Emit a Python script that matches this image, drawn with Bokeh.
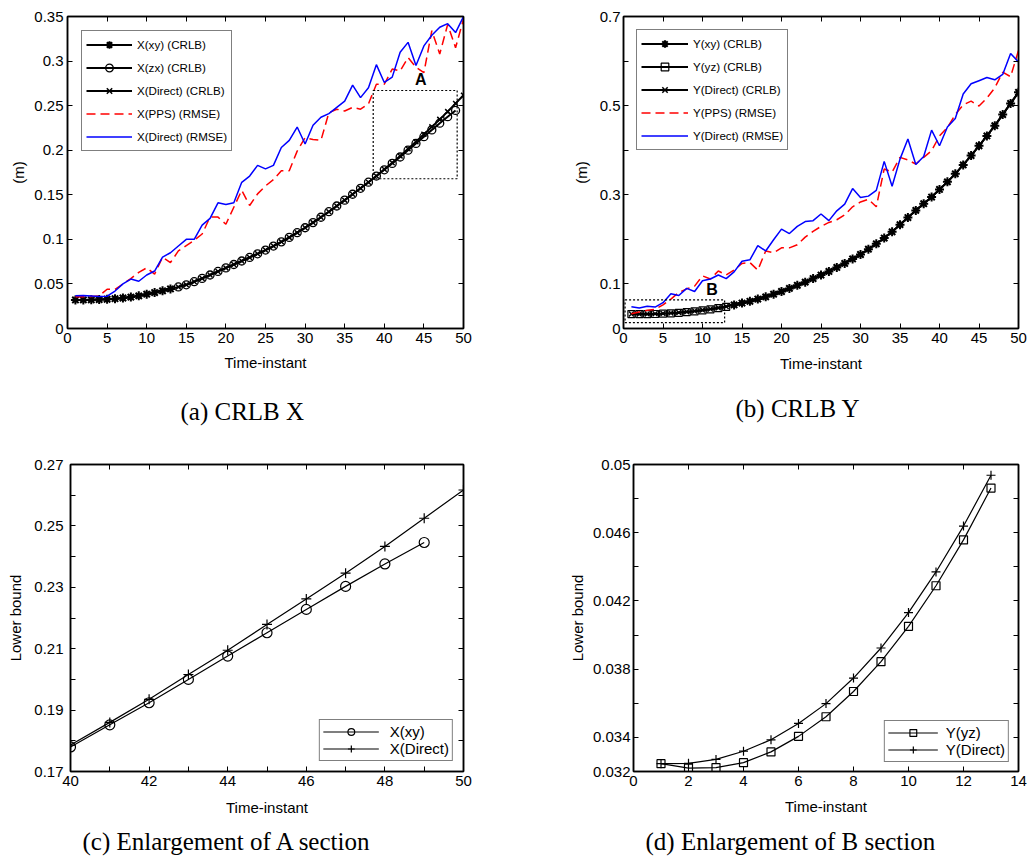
from bokeh.plotting import figure
from bokeh.models import (Range1d, FixedTicker, LinearAxis, CustomJSTickFormatter,
                          Legend, LegendItem, Title, Label)
from bokeh.layouts import row, column
from bokeh.embed import file_html
from bokeh.resources import INLINE

# ---------------- data: panel (a) CRLB X ----------------
t_all = list(range(1, 51))
t_xy = list(range(1, 14))
t_zx = list(range(14, 50))

x_xy_crlb = [0.0320, 0.0321, 0.0322, 0.0324, 0.0328, 0.0334, 0.0342, 0.0352, 0.0366, 0.0385,
             0.0403, 0.0423, 0.0444]
x_zx_crlb = [0.0466, 0.0490, 0.0525, 0.0562, 0.0600, 0.0640, 0.0680, 0.0718, 0.0757, 0.0797,
             0.0838, 0.0880, 0.0925, 0.0972, 0.1022, 0.1075, 0.1130, 0.1188, 0.1248, 0.1310,
             0.1374, 0.1440, 0.1506, 0.1573, 0.1641, 0.1710, 0.1780, 0.1852, 0.1924, 0.2000,
             0.2076, 0.2152, 0.2228, 0.2303, 0.2376, 0.2446]
x_direct_crlb = [0.0320, 0.0321, 0.0322, 0.0324, 0.0328, 0.0334, 0.0342, 0.0352, 0.0366, 0.0385,
                 0.0403, 0.0423, 0.0444, 0.0466, 0.0490, 0.0525, 0.0562, 0.0600, 0.0640, 0.0680,
                 0.0718, 0.0757, 0.0797, 0.0838, 0.0880, 0.0925, 0.0972, 0.1022, 0.1075, 0.1130,
                 0.1188, 0.1248, 0.1310, 0.1374, 0.1440, 0.1506, 0.1573, 0.1641, 0.1710, 0.1786,
                 0.1860, 0.1935, 0.2016, 0.2095, 0.2179, 0.2262, 0.2346, 0.2433, 0.2525, 0.2617]
x_pps_rmse = [0.0355, 0.0355, 0.0360, 0.0366, 0.0440, 0.0440, 0.0500, 0.0560, 0.0630, 0.0680,
              0.0610, 0.0800, 0.0740, 0.0870, 0.0930, 0.0990, 0.1060, 0.1250, 0.1250, 0.1170,
              0.1360, 0.1550, 0.1380, 0.1510, 0.1600, 0.1670, 0.1770, 0.1770, 0.1990, 0.2140,
              0.2120, 0.2110, 0.2420, 0.2460, 0.2440, 0.2480, 0.2460, 0.2520, 0.2740, 0.2740,
              0.2910, 0.2890, 0.3040, 0.2930, 0.2870, 0.3340, 0.3080, 0.3410, 0.3150, 0.3470]
x_direct_rmse = [0.0366, 0.0370, 0.0365, 0.0358, 0.0362, 0.0420, 0.0500, 0.0555, 0.0530, 0.0600,
                 0.0645, 0.0800, 0.0850, 0.0925, 0.1000, 0.1000, 0.1160, 0.1235, 0.1410, 0.1390,
                 0.1410, 0.1640, 0.1710, 0.1830, 0.1790, 0.1830, 0.2030, 0.2110, 0.2260, 0.2070,
                 0.2280, 0.2370, 0.2410, 0.2480, 0.2550, 0.2730, 0.2590, 0.2700, 0.2960, 0.2760,
                 0.2820, 0.3100, 0.3210, 0.2950, 0.3170, 0.3290, 0.3380, 0.3420, 0.3320, 0.3500]
zoom_a_x = [38.6, 49.2]
zoom_a_y = [0.168, 0.267]

# ---------------- data: panel (b) CRLB Y ----------------
t_yz = list(range(1, 14))
t_yxy = list(range(14, 51))
y_yz_crlb = [0.03246, 0.03220, 0.03223, 0.03252, 0.03315, 0.03406, 0.03521, 0.03669, 0.03844,
             0.04051, 0.04289, 0.04558, 0.04862]
y_direct_crlb = [0.03246, 0.03248, 0.03271, 0.03319, 0.03386, 0.03482, 0.03598, 0.03748, 0.03924,
                 0.04132, 0.04370, 0.04639, 0.04937, 0.0530, 0.0570, 0.0610, 0.0660, 0.0710,
                 0.0770, 0.0830, 0.0900, 0.0970, 0.1040, 0.1120, 0.1200, 0.1280, 0.1370, 0.1460,
                 0.1560, 0.1660, 0.1780, 0.1900, 0.2030, 0.2170, 0.2330, 0.2490, 0.2650, 0.2800,
                 0.2950, 0.3120, 0.3290, 0.3470, 0.3670, 0.3880, 0.4100, 0.4320, 0.4550, 0.4800,
                 0.5050, 0.5300]
y_xy_crlb = [0.0530, 0.0570, 0.0610, 0.0660, 0.0710, 0.0770, 0.0830, 0.0900, 0.0970, 0.1040,
             0.1120, 0.1200, 0.1280, 0.1370, 0.1460, 0.1560, 0.1660, 0.1780, 0.1900, 0.2030,
             0.2170, 0.2330, 0.2490, 0.2650, 0.2800, 0.2950, 0.3120, 0.3290, 0.3470, 0.3670,
             0.3880, 0.4100, 0.4320, 0.4550, 0.4800, 0.5050, 0.5300]
y_pps_rmse = [0.033, 0.037, 0.041, 0.043, 0.053, 0.066, 0.081, 0.089, 0.095, 0.118,
              0.111, 0.129, 0.120, 0.131, 0.146, 0.148, 0.131, 0.174, 0.170, 0.181,
              0.181, 0.188, 0.205, 0.218, 0.229, 0.238, 0.244, 0.255, 0.273, 0.284,
              0.290, 0.273, 0.358, 0.351, 0.384, 0.378, 0.369, 0.384, 0.399, 0.432,
              0.451, 0.480, 0.502, 0.510, 0.499, 0.517, 0.540, 0.575, 0.565, 0.624]
y_direct_rmse = [0.049, 0.046, 0.050, 0.048, 0.058, 0.078, 0.074, 0.090, 0.083, 0.107,
                 0.111, 0.120, 0.112, 0.127, 0.151, 0.154, 0.186, 0.174, 0.199, 0.223,
                 0.213, 0.229, 0.240, 0.242, 0.257, 0.242, 0.264, 0.279, 0.314, 0.294,
                 0.297, 0.310, 0.375, 0.319, 0.380, 0.425, 0.368, 0.386, 0.445, 0.410,
                 0.452, 0.471, 0.526, 0.549, 0.556, 0.563, 0.558, 0.570, 0.617, 0.598]
zoom_b_x = [0.2, 12.8]
zoom_b_y = [0.013, 0.064]

# ---------------- data: panel (c) enlargement A ----------------
c_t_xy = list(range(40, 50))
c_xy = [0.1780, 0.1852, 0.1924, 0.2000, 0.2076, 0.2152, 0.2228, 0.2303, 0.2376, 0.2446]
c_t_direct = list(range(40, 51))
c_direct = [0.1786, 0.1860, 0.1935, 0.2016, 0.2095, 0.2179, 0.2262, 0.2346, 0.2433, 0.2525, 0.2617]

# ---------------- data: panel (d) enlargement B ----------------
d_t = list(range(1, 14))
d_yz = [0.03246, 0.03220, 0.03223, 0.03252, 0.03315, 0.03406, 0.03521, 0.03669, 0.03844,
        0.04051, 0.04289, 0.04558, 0.04862]
d_direct = [0.03246, 0.03248, 0.03271, 0.03319, 0.03386, 0.03482, 0.03598, 0.03748, 0.03924,
            0.04132, 0.04370, 0.04639, 0.04937]

# ---------------- ticks ----------------
a_xticks = list(range(0, 51, 5))
a_yticks = [0, 0.05, 0.1, 0.15, 0.2, 0.25, 0.3, 0.35]
b_yticks = [0, 0.1, 0.2, 0.3, 0.4, 0.5, 0.6, 0.7]
b_ylabels = [0, 0.1, 0.3, 0.5, 0.7]
c_xticks = list(range(40, 51))
c_xlabels = [40, 42, 44, 46, 48, 50]
c_yticks = [0.17, 0.18, 0.19, 0.20, 0.21, 0.22, 0.23, 0.24, 0.25, 0.26, 0.27]
c_ylabels = [0.17, 0.19, 0.21, 0.23, 0.25, 0.27]
d_xticks = list(range(0, 15, 2))
d_yticks = [0.032, 0.034, 0.036, 0.038, 0.040, 0.042, 0.044, 0.046, 0.048, 0.050]
d_ylabels = [0.032, 0.034, 0.038, 0.042, 0.046, 0.050]

SANS = "Liberation Sans"
SERIF = "Liberation Serif"


def fmt(show):
    return CustomJSTickFormatter(
        args=dict(show=[int(round(v * 10000)) for v in show]),
        code="""
const k = Math.round(tick * 10000);
if (show.indexOf(k) < 0) { return ""; }
return String(parseFloat(tick.toFixed(4)));
""")


def make_fig(w, h, xr, yr, bl, br, bt, bb):
    p = figure(width=w, height=h, x_range=Range1d(*xr), y_range=Range1d(*yr),
               output_backend="svg", toolbar_location=None,
               min_border_left=bl, min_border_right=br, min_border_top=bt, min_border_bottom=bb)
    p.grid.visible = False
    p.outline_line_color = "black"
    p.outline_line_width = 1.5
    p.background_fill_color = "white"
    p.border_fill_color = "white"
    return p


def style_axes(p, xt, xshow, yt, yshow, xlabel, ylabel, ystand, ylstand, xlstand):
    xa = p.below[0]
    ya = p.left[0]
    xa.ticker = FixedTicker(ticks=xt)
    ya.ticker = FixedTicker(ticks=yt)
    xa.formatter = fmt(xshow)
    ya.formatter = fmt(yshow)
    for ax in (xa, ya):
        ax.major_tick_in = 5
        ax.major_tick_out = 0
        ax.minor_tick_in = 0
        ax.minor_tick_out = 0
        ax.axis_line_width = 1.5
        ax.axis_line_color = "black"
        ax.major_tick_line_color = "black"
        ax.major_label_text_font = SANS
        ax.major_label_text_font_size = "15px"
        ax.major_label_text_color = "black"
        ax.axis_label_text_font = SANS
        ax.axis_label_text_font_size = "15px"
        ax.axis_label_text_font_style = "normal"
        ax.axis_label_text_color = "black"
    xa.axis_label = xlabel
    ya.axis_label = ylabel
    xa.major_label_standoff = 4
    xa.axis_label_standoff = xlstand
    ya.major_label_standoff = ystand
    ya.axis_label_standoff = ylstand
    for loc, ticks in (("right", yt), ("above", xt)):
        ax = LinearAxis(ticker=FixedTicker(ticks=ticks),
                        formatter=CustomJSTickFormatter(code="return '';"),
                        major_label_text_font_size="0px", major_label_standoff=0,
                        major_tick_in=5, major_tick_out=0, minor_tick_in=0, minor_tick_out=0,
                        axis_line_width=1.5, axis_line_color="black")
        p.add_layout(ax, loc)


def add_caption(p, text, standoff, offset):
    p.add_layout(Title(text=text, align="left", text_font=SERIF, text_font_size="25px",
                       text_font_style="normal", text_color="black",
                       standoff=standoff, offset=offset), "below")


def make_legend(items, location, margin, padding, spacing, gw, gh, lh, stand, fsize, bw):
    return Legend(items=items, location=location, margin=margin, padding=padding,
                  spacing=spacing, glyph_width=gw, glyph_height=gh, label_height=lh,
                  label_standoff=stand, label_text_font=SANS, label_text_font_size=fsize,
                  label_text_color="black", border_line_color="black", border_line_width=bw,
                  background_fill_color="white", background_fill_alpha=1.0)


# ================= panel (a) =================
pa = make_fig(556, 448, (0, 50), (0, 0.35), 67, 93, 16, 120)
style_axes(pa, a_xticks, a_xticks, a_yticks, a_yticks, "Time-instant", "(m)", 4, 4, 8)
la3 = pa.line(t_all, x_direct_crlb, line_color="black", line_width=2)
sa3 = pa.scatter(t_all, x_direct_crlb, marker="x", size=7, line_color="black", line_width=1.5)
la1 = pa.line(t_xy, x_xy_crlb, line_color="black", line_width=2)
sa1 = pa.scatter(t_xy, x_xy_crlb, marker="asterisk", size=9, line_color="black", line_width=2)
la2 = pa.line(t_zx, x_zx_crlb, line_color="black", line_width=2)
sa2 = pa.scatter(t_zx, x_zx_crlb, marker="circle", size=8, line_color="black", line_width=1.3,
                 fill_alpha=0)
la4 = pa.line(t_all, x_pps_rmse, line_color="#ff0000", line_width=1.5, line_dash="9 5")
la5 = pa.line(t_all, x_direct_rmse, line_color="#0000ff", line_width=1.5)
pa.quad(left=[zoom_a_x[0]], right=[zoom_a_x[1]], bottom=[zoom_a_y[0]], top=[zoom_a_y[1]],
        fill_alpha=0, line_color="black", line_width=1.2, line_dash="2 2")
pa.add_layout(Label(x=(zoom_a_x[0] + zoom_a_x[1]) / 2 + 0.7, y=zoom_a_y[1], text="A",
                    text_font=SANS, text_font_style="bold", text_font_size="16px",
                    text_color="black", text_align="center", text_baseline="bottom",
                    y_offset=2))
pa.add_layout(make_legend([
    LegendItem(label="X(xy) (CRLB)", renderers=[la1, sa1]),
    LegendItem(label="X(zx) (CRLB)", renderers=[la2, sa2]),
    LegendItem(label="X(Direct) (CRLB)", renderers=[la3, sa3]),
    LegendItem(label="X(PPS) (RMSE)", renderers=[la4]),
    LegendItem(label="X(Direct) (RMSE)", renderers=[la5]),
], "top_left", 14, 4, 4, 46, 19, 19, 5, "11.6px", 1))
add_caption(pa, "(a) CRLB X", 44, 113)

# ================= panel (b) =================
pb = make_fig(471, 448, (0, 50), (0, 0.7), 67, 9, 14, 118)
style_axes(pb, a_xticks, a_xticks, b_yticks, b_ylabels, "Time-instant", "(m)", 3, 7, 9)
lb3 = pb.line(t_all, y_direct_crlb, line_color="black", line_width=2)
sb3 = pb.scatter(t_all, y_direct_crlb, marker="x", size=7, line_color="black", line_width=1.5)
lb1 = pb.line(t_yxy, y_xy_crlb, line_color="black", line_width=2)
sb1 = pb.scatter(t_yxy, y_xy_crlb, marker="asterisk", size=9, line_color="black", line_width=2)
lb2 = pb.line(t_yz, y_yz_crlb, line_color="black", line_width=2)
sb2 = pb.scatter(t_yz, y_yz_crlb, marker="square", size=7, line_color="black", line_width=1.2,
                 fill_alpha=0)
lb4 = pb.line(t_all, y_pps_rmse, line_color="#ff0000", line_width=1.5, line_dash="9 5")
lb5 = pb.line(t_all, y_direct_rmse, line_color="#0000ff", line_width=1.5)
pb.quad(left=[zoom_b_x[0]], right=[zoom_b_x[1]], bottom=[zoom_b_y[0]], top=[zoom_b_y[1]],
        fill_alpha=0, line_color="black", line_width=1.2, line_dash="2 2")
pb.add_layout(Label(x=zoom_b_x[1] - 1.6, y=zoom_b_y[1], text="B",
                    text_font=SANS, text_font_style="bold", text_font_size="16px",
                    text_color="black", text_align="center", text_baseline="bottom",
                    y_offset=2))
pb.add_layout(make_legend([
    LegendItem(label="Y(xy) (CRLB)", renderers=[lb1, sb1]),
    LegendItem(label="Y(yz) (CRLB)", renderers=[lb2, sb2]),
    LegendItem(label="Y(Direct) (CRLB)", renderers=[lb3, sb3]),
    LegendItem(label="Y(PPS) (RMSE)", renderers=[lb4]),
    LegendItem(label="Y(Direct) (RMSE)", renderers=[lb5]),
], "top_left", 13, 4, 4, 47, 19, 19, 5, "11.6px", 1))
add_caption(pb, "(b) CRLB Y", 36, 112)

# ================= panel (c) =================
pc = make_fig(556, 414, (40, 50), (0.17, 0.27), 70, 93, 16, 90)
style_axes(pc, c_xticks, c_xlabels, c_yticks, c_ylabels, "Time-instant", "Lower bound", 7, 7, 10)
lc1 = pc.line(c_t_xy, c_xy, line_color="black", line_width=1.2)
sc1 = pc.scatter(c_t_xy, c_xy, marker="circle", size=10, line_color="black", line_width=1.2,
                 fill_alpha=0)
lc2 = pc.line(c_t_direct, c_direct, line_color="black", line_width=1.2)
sc2 = pc.scatter(c_t_direct, c_direct, marker="cross", size=10, line_color="black", line_width=1.2)
pc.add_layout(make_legend([
    LegendItem(label="X(xy)", renderers=[lc1, sc1]),
    LegendItem(label="X(Direct)", renderers=[lc2, sc2]),
], "bottom_right", 10, 3, 0, 56, 17, 17, 11, "15px", 1.5))
add_caption(pc, "(c) Enlargement of A section", 14, 12)

# ================= panel (d) =================
pd = make_fig(471, 414, (0, 14), (0.032, 0.050), 77, 9, 15, 90)
style_axes(pd, d_xticks, d_xticks, d_yticks, d_ylabels, "Time-instant", "Lower bound", 3, 4, 9)
ld1 = pd.line(d_t, d_yz, line_color="black", line_width=1.2)
sd1 = pd.scatter(d_t, d_yz, marker="square", size=8, line_color="black", line_width=1.2,
                 fill_alpha=0)
ld2 = pd.line(d_t, d_direct, line_color="black", line_width=1.2)
sd2 = pd.scatter(d_t, d_direct, marker="cross", size=9, line_color="black", line_width=1.2)
pd.add_layout(make_legend([
    LegendItem(label="Y(yz)", renderers=[ld1, sd1]),
    LegendItem(label="Y(Direct)", renderers=[ld2, sd2]),
], "bottom_right", 9, 3, 0, 50, 17, 17, 8, "15px", 1.5))
add_caption(pd, "(d) Enlargement of B section", 16, 12)

layout = column(row(pa, pb), row(pc, pd))
open("out.html", "w").write(file_html(layout, INLINE))
